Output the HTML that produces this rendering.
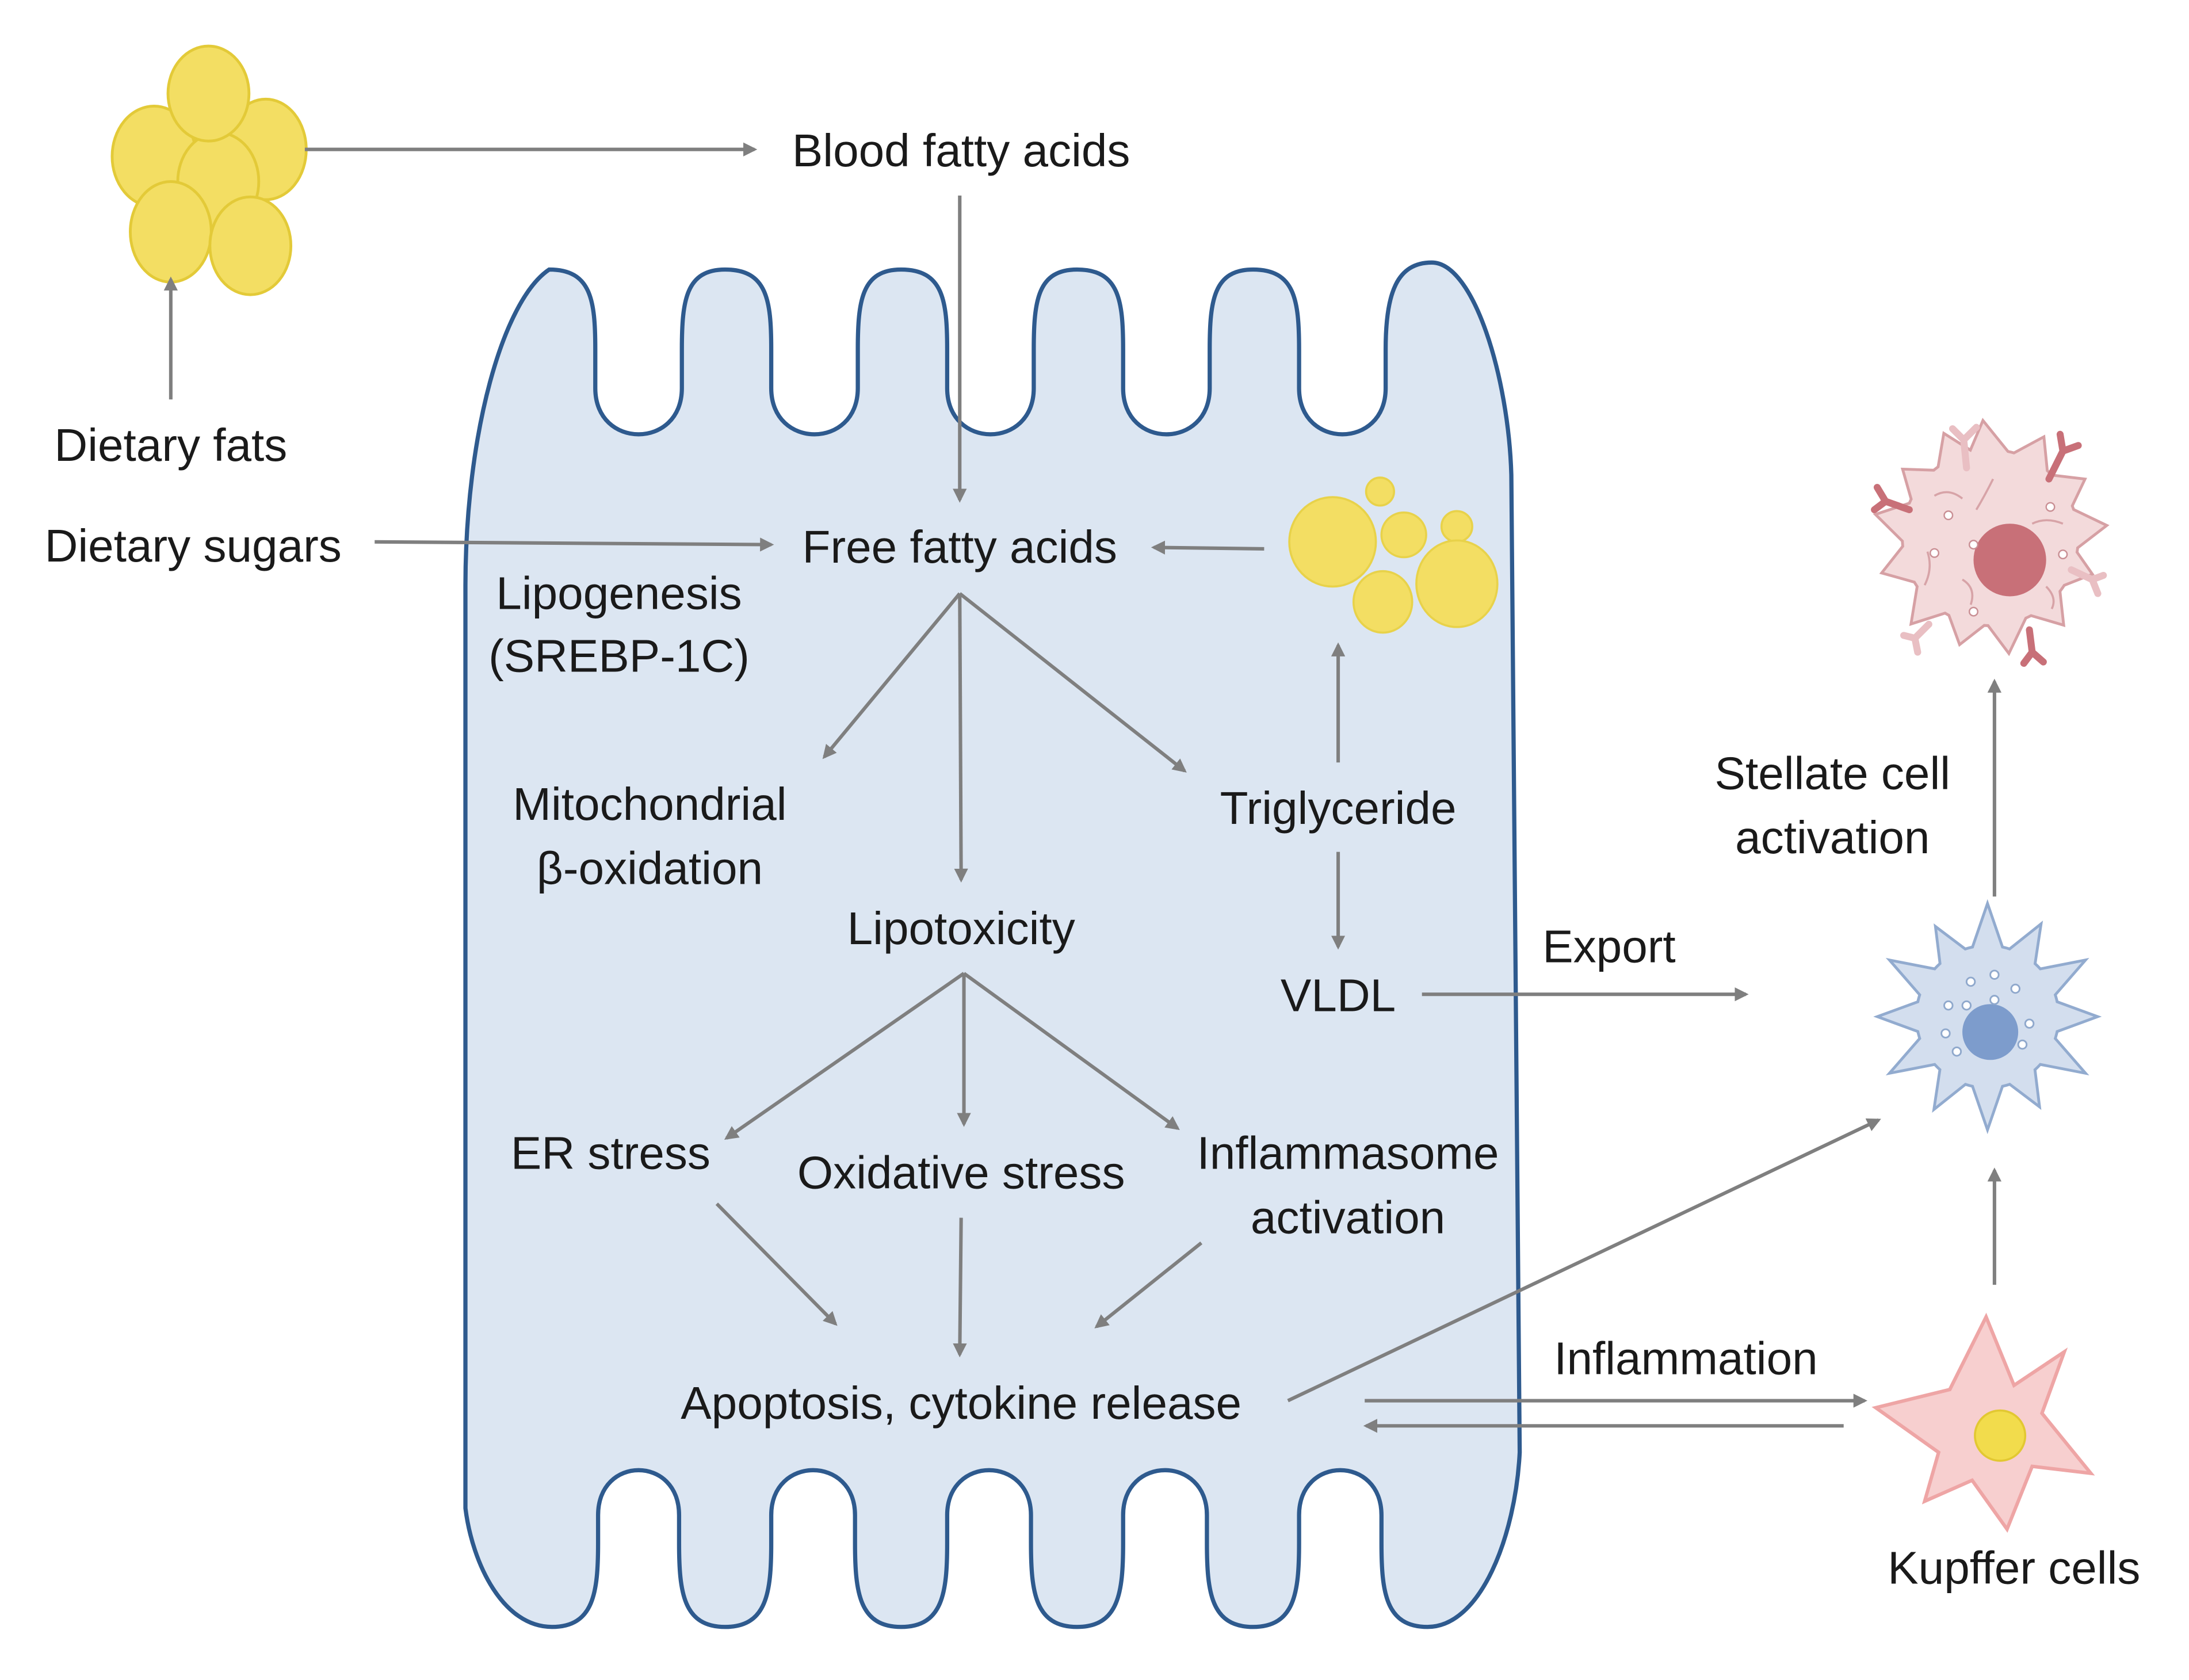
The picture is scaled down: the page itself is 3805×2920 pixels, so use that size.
<!DOCTYPE html>
<html><head><meta charset="utf-8"><style>
html,body{margin:0;padding:0;background:#fff;}
svg{display:block;}
text{font-family:"Liberation Sans",sans-serif;font-size:33px;fill:#1a1a1a;text-anchor:middle;}
</style></head><body>
<svg width="3805" height="2920" viewBox="0 0 1567 1203" xmlns="http://www.w3.org/2000/svg">
<defs>
<marker id="ah" markerWidth="10" markerHeight="10" refX="8" refY="5" orient="auto" markerUnits="userSpaceOnUse" viewBox="0 0 10 10">
<path d="M0,0 L10,5 L0,10 Z" fill="#7f7f7f"/></marker>
<g id="bluecell">
<circle cx="0" cy="0" r="50"/>
<path d="M-11,-46 L0,-78 L11,-46Z"/>
<path d="M-11,-46 L0,-74 L11,-46Z" transform="rotate(30)"/>
<path d="M-11,-46 L0,-78 L11,-46Z" transform="rotate(60)"/>
<path d="M-11,-46 L0,-76 L11,-46Z" transform="rotate(90)"/>
<path d="M-11,-46 L0,-78 L11,-46Z" transform="rotate(120)"/>
<path d="M-11,-46 L0,-72 L11,-46Z" transform="rotate(150)"/>
<path d="M-11,-46 L0,-78 L11,-46Z" transform="rotate(180)"/>
<path d="M-11,-46 L0,-74 L11,-46Z" transform="rotate(210)"/>
<path d="M-11,-46 L0,-78 L11,-46Z" transform="rotate(240)"/>
<path d="M-11,-46 L0,-76 L11,-46Z" transform="rotate(270)"/>
<path d="M-11,-46 L0,-78 L11,-46Z" transform="rotate(300)"/>
<path d="M-11,-46 L0,-72 L11,-46Z" transform="rotate(330)"/>
</g>
<g id="pinkcell">
<circle cx="0" cy="0" r="62"/>
<path d="M-16,-56 L-5,-82 L16,-56Z"/>
<path d="M-16,-56 L0,-80 L16,-56Z" transform="rotate(28)"/>
<path d="M-16,-56 L3,-78 L16,-56Z" transform="rotate(56)"/>
<path d="M-16,-56 L0,-82 L16,-56Z" transform="rotate(84)"/>
<path d="M-16,-56 L-3,-76 L16,-56Z" transform="rotate(112)"/>
<path d="M-16,-56 L0,-80 L16,-56Z" transform="rotate(140)"/>
<path d="M-16,-56 L4,-82 L16,-56Z" transform="rotate(168)"/>
<path d="M-16,-56 L0,-78 L16,-56Z" transform="rotate(196)"/>
<path d="M-16,-56 L-2,-82 L16,-56Z" transform="rotate(224)"/>
<path d="M-16,-56 L0,-80 L16,-56Z" transform="rotate(252)"/>
<path d="M-16,-56 L2,-82 L16,-56Z" transform="rotate(280)"/>
<path d="M-16,-56 L0,-78 L16,-56Z" transform="rotate(308)"/>
<path d="M-16,-56 L0,-80 L16,-56Z" transform="rotate(336)"/>
</g>
</defs>

<path fill="#dce6f2" stroke="#2e5a8e" stroke-width="3" d="
M333,1080 L333,420 C333,310 360,215 393,193
C423,193 426,215 426,250 L426,278 C426,322 488,322 488,278 L488,250 C488,215 491,193 519,193
C549,193 552,215 552,250 L552,278 C552,322 614,322 614,278 L614,250 C614,215 617,193 645,193
C675,193 678,215 678,250 L678,278 C678,322 740,322 740,278 L740,250 C740,215 743,193 771,193
C801,193 804,215 804,250 L804,278 C804,322 866,322 866,278 L866,250 C866,215 869,193 897,193
C927,193 930,215 930,250 L930,278 C930,322 992,322 992,278 L992,250 C992,210 1000,188 1025,188
C1055,188 1080,270 1082,340 L1088,1040
C1085,1100 1060,1165 1022,1165
C992,1165 989,1140 989,1105 L989,1085 C989,1042 930,1042 930,1085 L930,1105 C930,1140 927,1165 897,1165
C867,1165 864,1140 864,1105 L864,1085 C864,1042 804,1042 804,1085 L804,1105 C804,1140 801,1165 771,1165
C741,1165 738,1140 738,1105 L738,1085 C738,1042 678,1042 678,1085 L678,1105 C678,1140 675,1165 645,1165
C615,1165 612,1140 612,1105 L612,1085 C612,1042 552,1042 552,1085 L552,1105 C552,1140 549,1165 519,1165
C489,1165 486,1140 486,1105 L486,1085 C486,1042 428,1042 428,1085 L428,1105 C428,1140 425,1165 395,1165
C360,1165 338,1120 333,1080 Z"/>

<g fill="#f3de63" stroke="#e3ca38" stroke-width="2">
<ellipse cx="110" cy="112" rx="30" ry="36"/>
<ellipse cx="190" cy="107" rx="29" ry="36"/>
<ellipse cx="156" cy="130" rx="29" ry="35"/>
<ellipse cx="149" cy="67" rx="29" ry="34"/>
<ellipse cx="122" cy="166" rx="29" ry="36"/>
<ellipse cx="179" cy="176" rx="29" ry="35"/>
</g>
<g fill="#f3de63" stroke="#e8d24a" stroke-width="1.5">
<ellipse cx="954" cy="388" rx="31" ry="32"/>
<circle cx="988" cy="352" r="10"/>
<circle cx="1005" cy="383" r="16"/>
<circle cx="1043" cy="377" r="11"/>
<ellipse cx="1043" cy="418" rx="29" ry="31"/>
<ellipse cx="990" cy="431" rx="21" ry="22"/>
</g>

<g transform="translate(1425,385)">
<use href="#pinkcell" fill="#d6a0a4" stroke="#d6a0a4" stroke-width="4"/>
<use href="#pinkcell" fill="#f3dadb"/>
<circle cx="14" cy="16" r="26" fill="#c87078"/>
<g fill="none" stroke="#d7a3a7" stroke-width="1.5">
<path d="M-40,-30 q10,-6 20,2"/><path d="M-10,-20 q6,-10 12,-22"/><path d="M30,-10 q10,-5 22,0"/>
<path d="M-45,10 q4,12 -2,24"/><path d="M-20,30 q10,6 6,18"/><path d="M40,35 q8,8 4,16"/>
</g>
<g fill="#fff" stroke="#c98f94" stroke-width="1"><circle cx="-30" cy="-16" r="3"/><circle cx="-12" cy="5" r="3"/><circle cx="-40" cy="11" r="3"/><circle cx="43" cy="-22" r="3"/><circle cx="52" cy="12" r="3"/><circle cx="-12" cy="53" r="3"/></g>
<g fill="none" stroke-linecap="round" stroke-width="5">
<path stroke="#e9bfc3" d="M-17,-50 L-19,-70 M-19,-70 L-27,-78 M-19,-70 L-10,-79"/>
<path stroke="#c87078" d="M42,-42 L52,-62 M52,-62 L50,-74 M52,-62 L63,-66"/>
<path stroke="#c87078" d="M-58,-20 L-75,-26 M-75,-26 L-81,-36 M-75,-26 L-83,-20"/>
<path stroke="#e9bfc3" d="M58,23 L73,30 M73,30 L81,27 M73,30 L77,40"/>
<path stroke="#e9bfc3" d="M-44,62 L-54,72 M-54,72 L-62,70 M-54,72 L-52,82"/>
<path stroke="#c87078" d="M28,66 L30,82 M30,82 L24,90 M30,82 L38,89"/>
</g>
</g>

<g transform="translate(1423,728)">
<use href="#bluecell" fill="#92abcf" stroke="#92abcf" stroke-width="4"/>
<use href="#bluecell" fill="#d3deee"/>
<circle cx="2" cy="11" r="20" fill="#7d9ccc"/>
<g fill="#fff" stroke="#8fa8cc" stroke-width="1.2">
<circle cx="-12" cy="-25" r="3"/><circle cx="5" cy="-30" r="3"/><circle cx="20" cy="-20" r="3"/><circle cx="-28" cy="-8" r="3"/><circle cx="-15" cy="-8" r="3"/><circle cx="30" cy="5" r="3"/><circle cx="-30" cy="12" r="3"/><circle cx="-22" cy="25" r="3"/><circle cx="25" cy="20" r="3"/><circle cx="5" cy="-12" r="3"/>
</g>
</g>

<polygon fill="#f7cfcf" stroke="#eea5a5" stroke-width="2.5" points="1422,943 1442,992 1478,968 1462,1012 1497,1055 1455,1050 1437,1095 1412,1060 1378,1075 1388,1040 1343,1008 1396,995"/>
<circle cx="1432" cy="1028" r="18" fill="#f2dc4c" stroke="#e2c832" stroke-width="1.5"/>

<g stroke="#7f7f7f" stroke-width="2.5" fill="none" marker-end="url(#ah)">
<line x1="218" y1="107" x2="540" y2="107"/>
<line x1="122" y1="286" x2="122" y2="200"/>
<line x1="687" y1="140" x2="687" y2="358"/>
<line x1="268" y1="388" x2="552" y2="390"/>
<line x1="905" y1="393" x2="826" y2="392"/>
<line x1="687" y1="425" x2="590" y2="542"/>
<line x1="687" y1="425" x2="688" y2="630"/>
<line x1="687" y1="425" x2="848" y2="552"/>
<line x1="958" y1="546" x2="958" y2="462"/>
<line x1="958" y1="610" x2="958" y2="678"/>
<line x1="1018" y1="712" x2="1250" y2="712"/>
<line x1="690" y1="697" x2="520" y2="815"/>
<line x1="690" y1="697" x2="690" y2="805"/>
<line x1="690" y1="697" x2="843" y2="808"/>
<line x1="513" y1="862" x2="598" y2="948"/>
<line x1="688" y1="872" x2="687" y2="970"/>
<line x1="860" y1="890" x2="785" y2="950"/>
<line x1="922" y1="1003" x2="1345" y2="802"/>
<line x1="977" y1="1003" x2="1335" y2="1003"/>
<line x1="1320" y1="1021" x2="978" y2="1021"/>
<line x1="1428" y1="920" x2="1428" y2="838"/>
<line x1="1428" y1="642" x2="1428" y2="488"/>
</g>

<text x="688" y="119">Blood fatty acids</text>
<text x="122" y="330">Dietary fats</text>
<text x="138" y="402">Dietary sugars</text>
<text x="687" y="403">Free fatty acids</text>
<text x="443" y="436">Lipogenesis</text>
<text x="443" y="481">(SREBP-1C)</text>
<text x="465" y="587">Mitochondrial</text>
<text x="465" y="633">β-oxidation</text>
<text x="958" y="590">Triglyceride</text>
<text x="688" y="676">Lipotoxicity</text>
<text x="958" y="724">VLDL</text>
<text x="1152" y="689">Export</text>
<text x="437" y="837">ER stress</text>
<text x="688" y="851">Oxidative stress</text>
<text x="965" y="837">Inflammasome</text>
<text x="965" y="883">activation</text>
<text x="688" y="1016">Apoptosis, cytokine release</text>
<text x="1207" y="984">Inflammation</text>
<text x="1312" y="565">Stellate cell</text>
<text x="1312" y="611">activation</text>
<text x="1442" y="1134">Kupffer cells</text>
</svg>
</body></html>
